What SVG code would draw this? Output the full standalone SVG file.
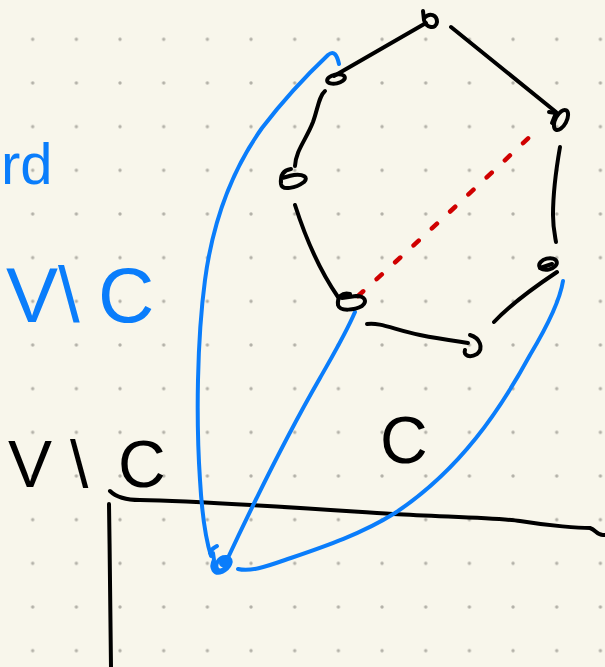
<svg xmlns="http://www.w3.org/2000/svg" width="605" height="667" viewBox="0 0 605 667">
<defs>
<pattern id="dots" x="32.7" y="39.3" width="43.67" height="43.67" patternUnits="userSpaceOnUse">
<circle cx="0" cy="0" r="1.7" fill="#b3b1a8"/>
<circle cx="43.67" cy="0" r="1.7" fill="#b3b1a8"/>
<circle cx="0" cy="43.67" r="1.7" fill="#b3b1a8"/>
<circle cx="43.67" cy="43.67" r="1.7" fill="#b3b1a8"/>
</pattern>
<style>
.k{fill:none;stroke:#000;stroke-width:4;stroke-linecap:round;stroke-linejoin:round}
.b{fill:none;stroke:#0a7dfb;stroke-width:4;stroke-linecap:round;stroke-linejoin:round}
.r{fill:none;stroke:#d00000;stroke-width:4.5;stroke-linecap:round;stroke-dasharray:7 18}
.tk{font-family:"Liberation Sans",Arial,sans-serif;fill:#000}
.tb{font-family:"Liberation Sans",Arial,sans-serif;fill:#0a7dfb}
</style>
</defs>
<rect width="605" height="667" fill="#f8f6eb"/>
<rect width="605" height="667" fill="url(#dots)"/>

<g id="labels">
<text class="tb" x="1" y="184" font-size="58">rd</text>
<text class="tb" x="6 58 98" y="322" font-size="78">V\C</text>
<text class="tk" x="8 70 118" y="487" font-size="66">V\C</text>
<text class="tk" x="380" y="463" font-size="66">C</text>
</g>

<g id="frame">
<path class="k" d="M110,491 C116,497 125,500 140,500 C200,501 300,508 393,514 C450,517 500,518 520,521 C550,526 580,528 590,528 C596,530 597,535 603,535 L606,535"/>
<path class="k" d="M109,504 C110,560 110,620 111,667"/>
</g>

<g id="connectors">
<path class="k" d="M426,23 L334,76"/>
<path class="k" d="M451,27 L556,112"/>
<path class="k" d="M325,91 C319,96 318,108 313,122 C306,140 296,150 295,166"/>
<path class="k" d="M295,205 C303,230 318,268 338,297"/>
<path class="k" d="M367,324 C380,322 395,330 420,335 C440,339 455,341 468,343"/>
<path class="k" d="M494,322 C510,305 530,290 557,272"/>
<path class="k" d="M560,147 C556,170 553,195 553,215 C553,228 555,236 556,242"/>
<path class="r" d="M358,296 C420,240 480,184 540,127"/>
<path class="b" d="M339,64 C337,55 334,50 328,55 C310,72 285,98 262,128 C232,170 213,220 205,280 C197,340 196,420 200,480 C202,515 206,540 211,556"/>
<path class="b" d="M355,312 C345,335 333,355 320,378 C290,430 255,500 226,562"/>
<path class="b" d="M563,281 C560,300 548,325 530,355 C500,410 460,470 395,513 C360,535 320,548 285,560 C265,567 250,572 238,569"/>
</g>

<g id="n_top"><path class="k" d="M423,11 L424,20 C426,28 436,30 437,22 C437,15 430,12 424,18"/></g>
<g id="n_ul"><ellipse class="k" cx="336" cy="79" rx="9" ry="4.5" transform="rotate(-12 336 79)"/></g>
<g id="n_l"><path class="k" d="M291,169 C284,170 280,174 281,184 C282,191 296,188 304,182 C309,177 303,174 294,175 C288,176 284,178 282,178"/></g>
<g id="n_bl"><path class="k" d="M350,294 C342,292 337,297 338,305 C340,312 355,310 362,306 C367,302 366,296 356,296 L342,298"/></g>
<g id="n_b"><path class="k" d="M470,335 C480,338 484,348 477,354 C470,358 463,356 465,350"/></g>
<g id="n_rl"><ellipse class="k" cx="548" cy="264" rx="9" ry="5.5" transform="rotate(-15 548 264)"/><path class="k" d="M540,268 L552,264"/></g>
<g id="n_ru"><ellipse class="k" cx="561" cy="120" rx="11" ry="5.5" transform="rotate(-62 561 120)"/><path class="k" d="M549,112 L556,113 L552,123"/></g>
<g id="n_blue"><path class="b" d="M210,553 C211,549 214,548 217,546 M213,553 L214,560 C210,568 214,575 222,572 C230,568 234,560 227,557 C218,556 214,566 218,570 C224,572 230,565 226,559"/><ellipse cx="225" cy="563" rx="6" ry="5" fill="#0a7dfb"/></g>
</svg>
